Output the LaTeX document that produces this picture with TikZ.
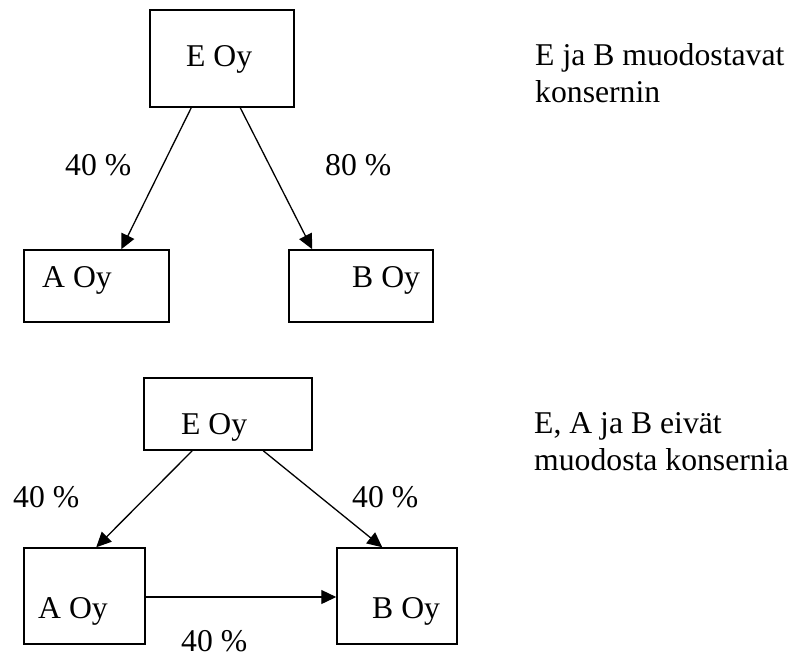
\documentclass[tikz,border=0pt]{standalone}
\usepackage{fontspec}
\setmainfont{Liberation Serif}
\usetikzlibrary{arrows.meta,calc}
\begin{document}
\begin{tikzpicture}[x=1pt,y=-1pt,
  box/.style={draw,line width=1.5pt,inner sep=0pt,rectangle},
  txt/.style={inner sep=0pt,anchor=base west,font=\fontsize{31.7}{38}\selectfont},
  arr/.style={line width=1.3pt,-{Triangle[length=15pt,width=14pt]}}]
\useasboundingbox (0,0) rectangle (797,657);
% top diagram
\node[box,minimum width=144pt,minimum height=97pt] (e1) at (222,58.5) {};
\node[box,minimum width=145pt,minimum height=72pt] (a1) at (96.5,286) {};
\node[box,minimum width=144pt,minimum height=72pt] (b1) at (361,286) {};
\node[txt] (te1) at (186,66) {E Oy};
\node[txt] (ta1) at (42,287) {A Oy};
\node[txt] (tb1) at (352,287) {B Oy};
\node[txt] (p1) at (65,175) {40 \%};
\node[txt] (p2) at (325,175) {80 \%};
\node[txt] (n1a) at (535,65) {E ja B muodostavat};
\node[txt] (n1b) at (535,102) {konsernin};
\draw[arr] ($(e1.south west)+(42,0)$) -- ($(a1.north west)+(98,0)$);
\draw[arr] ($(e1.south west)+(91,0)$) -- ($(b1.north west)+(24,0)$);
% bottom diagram
\node[box,minimum width=168pt,minimum height=72pt] (e2) at (228,414) {};
\node[box,minimum width=121pt,minimum height=96pt] (a2) at (84.5,596) {};
\node[box,minimum width=120pt,minimum height=96pt] (b2) at (397,596) {};
\node[txt] (te2) at (181,434) {E Oy};
\node[txt] (ta2) at (38,618) {A Oy};
\node[txt] (tb2) at (372,618) {B Oy};
\node[txt] (p3) at (13,507) {40 \%};
\node[txt] (p4) at (352,507) {40 \%};
\node[txt] (p5) at (181,651) {40 \%};
\node[txt] (n2a) at (534,433) {E, A ja B eivät};
\node[txt] (n2b) at (534,470) {muodosta konsernia};
\draw[arr] ($(e2.south west)+(49,0)$) -- ($(a2.north west)+(73,0)$);
\draw[arr] ($(e2.south west)+(120,0)$) -- ($(b2.north west)+(46,0)$);
\draw[arr] ($(a2.east)+(0,1)$) -- ($(b2.west)+(0,1)$);
\end{tikzpicture}
\end{document}
